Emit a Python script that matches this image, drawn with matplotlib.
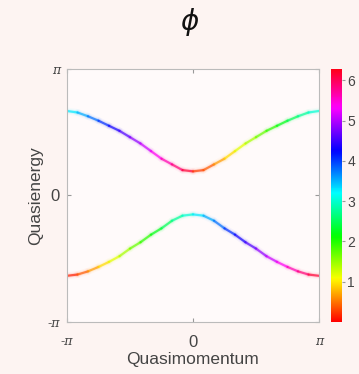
import matplotlib
matplotlib.use("Agg")
import matplotlib.pyplot as plt
import numpy as np
from matplotlib.collections import LineCollection

# quasimomentum samples (in units of pi)
k_half = [0, 1/12, 2/12, 3/12, 4/12, 5/12, 6/12, 7/12, 8/12, 9/12, 10/12, 11/12, 1]
# upper band quasienergy (units of pi), symmetric in k
upper_half = [0.19, 0.20, 0.245, 0.29, 0.35, 0.41, 0.46, 0.51, 0.55, 0.59, 0.625, 0.655, 0.667]
# lower band quasienergy (units of pi)
lower_half = [-0.15, -0.16, -0.20, -0.26, -0.31, -0.37, -0.42, -0.48, -0.525, -0.565, -0.60, -0.625, -0.635]

upper_phase_left = [6.28, 6.02, 5.76, 5.50, 5.24, 4.97, 4.71, 4.45, 4.19, 3.93, 3.67, 3.40, 3.14]
upper_phase_right = [0.0, 0.26, 0.52, 0.79, 1.05, 1.31, 1.57, 1.83, 2.09, 2.36, 2.62, 2.88, 3.14]
lower_phase_left = [3.14, 2.88, 2.62, 2.36, 2.09, 1.83, 1.57, 1.31, 1.05, 0.79, 0.52, 0.26, 0.0]
lower_phase_right = [3.14, 3.40, 3.67, 3.93, 4.19, 4.45, 4.71, 4.97, 5.24, 5.50, 5.76, 6.02, 6.28]

bg = "#fdf4f2"
plt.rcParams["font.family"] = ["Liberation Sans", "DejaVu Sans"]

fig = plt.figure(figsize=(3.59, 3.74), dpi=100, facecolor=bg)
ax = fig.add_axes([0.1866, 0.139, 0.702, 0.677])
cax = fig.add_axes([0.921, 0.139, 0.031, 0.677])
ax.set_facecolor("#fffafa")

cmap = plt.get_cmap("hsv")
norm = plt.Normalize(0, 2 * np.pi)


def band(half, ph_left, ph_right):
    kh = np.array(k_half) * np.pi
    eh = np.array(half) * np.pi
    k = np.concatenate([-kh[::-1], kh[1:]])
    e = np.concatenate([eh[::-1], eh[1:]])
    ph = np.concatenate([np.array(ph_left)[::-1], np.array(ph_right)[1:]])
    return k, e, ph


for half, pl, pr in [(upper_half, upper_phase_left, upper_phase_right),
                     (lower_half, lower_phase_left, lower_phase_right)]:
    k, e, ph = band(half, pl, pr)
    pts = np.array([k, e]).T.reshape(-1, 1, 2)
    segs = np.concatenate([pts[:-1], pts[1:]], axis=1)
    seg_ph = (ph[:-1] + ph[1:]) / 2
    # wrap jump at k=0 for the upper band
    seg_ph = np.where(np.abs(ph[:-1] - ph[1:]) > 3, ph[1:], seg_ph)
    for lw, a in [(5, 0.04), (3, 0.1), (1.6, 0.7)]:
        lc = LineCollection(segs, cmap=cmap, norm=norm, linewidths=lw,
                            alpha=a, capstyle="round", joinstyle="round")
        lc.set_array(seg_ph)
        ax.add_collection(lc)

ax.set_xlim(-np.pi, np.pi)
ax.set_ylim(-np.pi, np.pi)
ax.set_xticks([-np.pi, 0, np.pi])
ax.set_yticks([-np.pi, 0, np.pi])
ax.set_xticklabels(["-π", "0", "π"])
ax.set_yticklabels(["-π", "0", "π"])
for lab in ax.get_xticklabels() + ax.get_yticklabels():
    if lab.get_text() != "0":
        lab.set_fontfamily("DejaVu Serif")
        lab.set_fontstyle("italic")
        lab.set_fontsize(9)
    else:
        lab.set_fontsize(12)
ax.tick_params(direction="in", length=3, colors="#999999", labelcolor="#444444",
               top=True, right=True)
ax.tick_params(axis="x", pad=9)
ax.tick_params(axis="y", pad=5)
for s in ax.spines.values():
    s.set_color("#bbbbbb")
    s.set_linewidth(0.8)

ax.set_xlabel("Quasimomentum", fontsize=12.5, color="#444444", labelpad=2)
ax.set_ylabel("Quasienergy", fontsize=12.5, color="#444444", labelpad=3)
fig.text(0.529, 0.94, r"$\phi$", fontsize=20, ha="center", va="center", color="#111111")

cb = fig.colorbar(plt.cm.ScalarMappable(norm=norm, cmap=cmap), cax=cax)
cb.outline.set_visible(False)
cb.set_ticks([1, 2, 3, 4, 5, 6])
cb.ax.tick_params(labelsize=10, colors="#999999", labelcolor="#444444", length=2, pad=2)

fig.savefig("out.png", dpi=100, facecolor=bg)
